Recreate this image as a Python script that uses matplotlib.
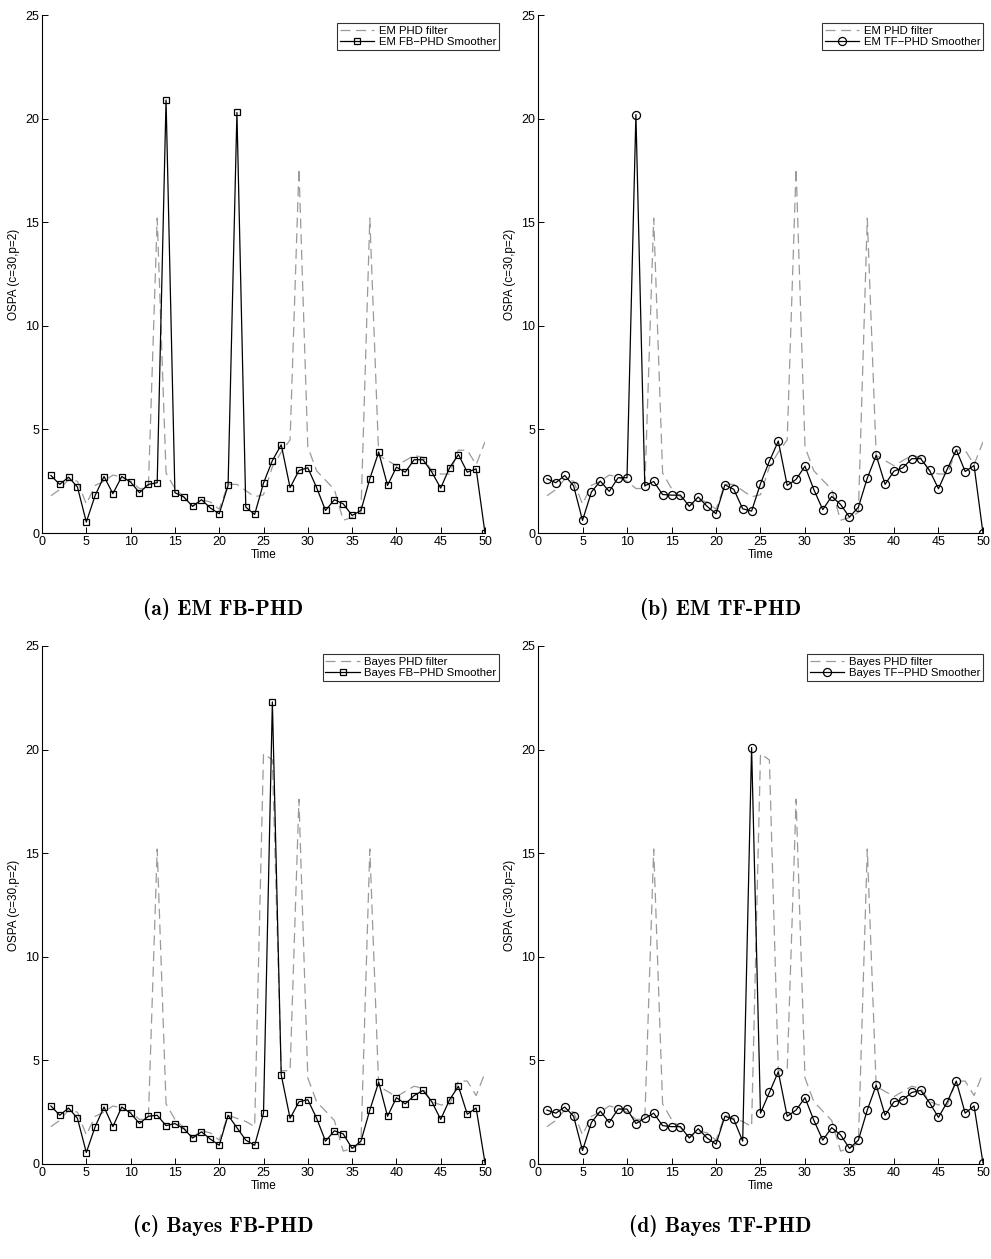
import matplotlib
matplotlib.use("Agg")
import matplotlib.pyplot as plt

plt.rcParams['font.family'] = ['Liberation Sans Narrow', 'Liberation Sans', 'DejaVu Sans']

time = list(range(1, 51))

# EM PHD filter (dashed grey), shared by panels (a) and (b)
em_filter = [1.8, 2.1, 2.6, 2.5, 1.4, 2.3, 2.5, 2.8, 2.7, 2.5,
             2.15, 2.15, 15.2, 2.9, 2.15, 1.75, 1.3, 1.6, 1.5, 1.15,
             2.35, 2.35, 2.05, 1.75, 1.85, 3.2, 3.9, 4.5, 17.6, 4.15,
             3.0, 2.55, 2.1, 0.62, 0.75, 1.0, 15.2, 3.75, 3.5, 3.25,
             3.5, 3.75, 3.65, 3.0, 2.85, 2.85, 4.0, 4.0, 3.3, 4.4]

# Bayes PHD filter (dashed grey), shared by panels (c) and (d)
bayes_filter = [1.8, 2.1, 2.6, 2.5, 1.4, 2.3, 2.5, 2.8, 2.7, 2.5,
                2.15, 2.15, 15.2, 2.9, 2.15, 1.75, 1.3, 1.6, 1.5, 1.15,
                2.35, 2.2, 2.05, 1.8, 19.8, 19.5, 4.5, 4.5, 17.6, 4.15,
                3.0, 2.55, 2.1, 0.62, 0.75, 1.0, 15.2, 3.75, 3.5, 3.25,
                3.5, 3.75, 3.65, 3.0, 2.85, 2.85, 4.0, 4.0, 3.3, 4.4]

em_fb = [2.78, 2.35, 2.7, 2.22, 0.53, 1.82, 2.73, 1.9, 2.73, 2.46,
         1.95, 2.35, 2.43, 20.9, 1.95, 1.74, 1.29, 1.61, 1.21, 0.93,
         2.3, 20.3, 1.25, 0.9, 2.41, 3.5, 4.26, 2.19, 3.02, 3.15,
         2.19, 1.09, 1.61, 1.41, 0.85, 1.09, 2.62, 3.91, 2.3, 3.18,
         2.94, 3.54, 3.54, 2.94, 2.17, 3.15, 3.79, 2.94, 3.1, 0.0]

em_tf = [2.62, 2.43, 2.78, 2.28, 0.61, 1.98, 2.51, 2.01, 2.67, 2.67,
         20.2, 2.28, 2.49, 1.86, 1.83, 1.83, 1.29, 1.74, 1.29, 0.93,
         2.33, 2.11, 1.17, 1.06, 2.38, 3.47, 4.44, 2.3, 2.59, 3.23,
         2.09, 1.13, 1.77, 1.38, 0.77, 1.25, 2.65, 3.75, 2.35, 2.99,
         3.15, 3.59, 3.59, 3.02, 2.14, 3.1, 4.02, 2.97, 3.26, 0.0]

bayes_fb = [2.8, 2.35, 2.7, 2.2, 0.55, 1.8, 2.75, 1.8, 2.75, 2.45,
            1.95, 2.3, 2.35, 1.85, 1.95, 1.7, 1.25, 1.55, 1.2, 0.9,
            2.35, 1.75, 1.15, 0.9, 2.45, 22.3, 4.3, 2.2, 3.0, 3.1,
            2.2, 1.1, 1.6, 1.45, 0.75, 1.1, 2.6, 3.95, 2.3, 3.2,
            2.9, 3.3, 3.55, 3.0, 2.15, 3.1, 3.75, 2.4, 2.7, 0.05]

bayes_tf = [2.6, 2.45, 2.75, 2.3, 0.65, 2.0, 2.55, 2.0, 2.65, 2.65,
            1.95, 2.2, 2.45, 1.85, 1.8, 1.8, 1.25, 1.7, 1.25, 0.95,
            2.3, 2.15, 1.1, 20.1, 2.45, 3.45, 4.45, 2.3, 2.6, 3.2,
            2.1, 1.15, 1.75, 1.4, 0.75, 1.15, 2.6, 3.8, 2.35, 3.0,
            3.1, 3.45, 3.55, 2.95, 2.25, 3.0, 4.0, 2.45, 2.8, 0.05]

panels = [
    (em_filter, em_fb, 's', 'EM PHD filter', 'EM FB\u2212PHD Smoother', '(a) EM FB-PHD'),
    (em_filter, em_tf, 'o', 'EM PHD filter', 'EM TF\u2212PHD Smoother', '(b) EM TF-PHD'),
    (bayes_filter, bayes_fb, 's', 'Bayes PHD filter', 'Bayes FB\u2212PHD Smoother', '(c) Bayes FB-PHD'),
    (bayes_filter, bayes_tf, 'o', 'Bayes PHD filter', 'Bayes TF\u2212PHD Smoother', '(d) Bayes TF-PHD'),
]

positions = [
    [0.0424, 0.5766, 0.447, 0.4114],
    [0.5429, 0.5766, 0.449, 0.4114],
    [0.0424, 0.0755, 0.447, 0.4114],
    [0.5429, 0.0755, 0.449, 0.4114],
]
legend_x = [1.032, 1.0, 1.032, 1.0]
caption_xy = [(0.225, 0.516), (0.727, 0.516), (0.225, 0.026), (0.727, 0.026)]

fig = plt.figure(figsize=(9.91, 12.59), dpi=100)

for (filt, smooth, mk, lab1, lab2, cap), pos, lx, cxy in zip(panels, positions, legend_x, caption_xy):
    ax = fig.add_axes(pos)
    ax.plot(time, filt, '--', color='#9a9a9a', lw=0.9, dashes=(8, 4.5), label=lab1)
    ax.plot(time, smooth, '-', color='black', lw=0.9, marker=mk,
            ms=4.3 if mk == 's' else 5.8, mfc='none', mec='black', mew=0.9, label=lab2)
    ax.set_xlim(0, 50)
    ax.set_ylim(0, 25)
    ax.set_xticks(range(0, 51, 5))
    ax.set_yticks(range(0, 26, 5))
    ax.spines['top'].set_visible(False)
    ax.spines['right'].set_visible(False)
    ax.tick_params(direction='in', length=4, width=0.7, labelsize=9, pad=2)
    ax.set_xlabel('Time', fontsize=8.5, labelpad=1)
    ax.set_ylabel('OSPA (c=30,p=2)', fontsize=8.5, labelpad=4)
    leg = ax.legend(loc='upper right', bbox_to_anchor=(lx, 0.985), fontsize=8.2,
                    frameon=True, fancybox=False, edgecolor='black', borderpad=0.25,
                    handlelength=3.0, handletextpad=0.4, labelspacing=0.1,
                    borderaxespad=0.0)
    leg.get_frame().set_linewidth(0.8)
    fig.text(cxy[0], cxy[1], cap, ha='center', va='center', fontsize=15.5,
             family=['cmb10', 'DejaVu Serif'], fontweight='bold')

fig.savefig('out.png', dpi=100)
